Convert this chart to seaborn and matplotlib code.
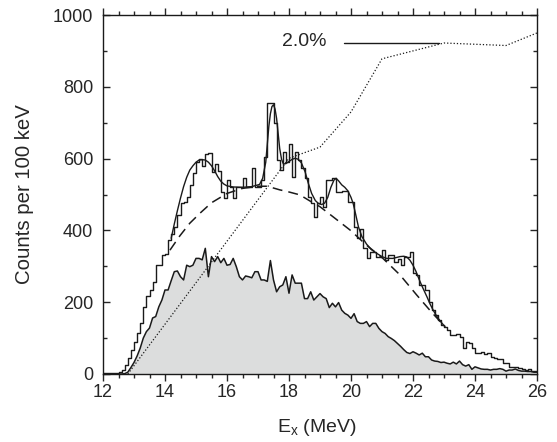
import numpy as np
import pandas as pd
import seaborn as sns
import matplotlib
matplotlib.use("Agg")
import matplotlib.pyplot as plt
from matplotlib.ticker import MultipleLocator

# measured spectrum, 100 keV bins starting at 12.0 MeV
bin_width = 0.1
hist_counts = [
    4, 4, 4, 4, 4, 5, 11, 25, 45, 68,
    90, 114, 142, 187, 217, 234, 257, 303, 303, 331,
    335, 373, 390, 410, 443, 476, 478, 494, 526, 560,
    590, 600, 580, 612, 615, 563, 585, 566, 508, 489,
    540, 522, 489, 522, 522, 545, 522, 522, 573, 522,
    522, 540, 605, 754, 754, 698, 596, 568, 619, 591,
    642, 550, 619, 596, 573, 545, 494, 475, 438, 475,
    494, 466, 540, 540, 545, 508, 508, 510, 510, 480,
    480, 410, 378, 405, 350, 322, 340, 340, 327, 327,
    345, 318, 331, 331, 312, 320, 303, 325, 325, 340,
    280, 276, 248, 248, 234, 201, 178, 164, 150, 136,
    130, 122, 108, 108, 111, 104, 72, 90, 86, 72,
    58, 58, 62, 55, 58, 48, 45, 42, 42, 30,
    30, 20, 20, 20, 17, 14, 11, 14, 8, 8,
]

# shaded (grey) spectrum, points every 100 keV from 12.0 to 26.0 MeV
grey_counts = [
    0, 0, 0, 0, 0, 0, 0, 1, 5, 18,
    32, 50, 72, 100, 118, 128, 156, 160, 187, 206,
    234, 234, 260, 285, 287, 271, 262, 303, 299, 303,
    322, 322, 318, 350, 271, 327, 313, 327, 310, 322,
    303, 305, 322, 299, 271, 262, 273, 271, 268, 285,
    285, 262, 262, 258, 316, 262, 229, 243, 248, 271,
    225, 276, 253, 253, 253, 210, 210, 229, 206, 215,
    224, 215, 210, 185, 197, 187, 199, 178, 169, 164,
    155, 168, 146, 141, 141, 146, 132, 141, 141, 127,
    118, 113, 104, 99, 93, 85, 77, 68, 60, 57,
    62, 58, 53, 58, 48, 48, 39, 36, 35, 32,
    33, 30, 28, 33, 28, 36, 26, 22, 26, 13,
    20, 17, 14, 13, 13, 11, 13, 13, 15, 13,
    8, 11, 11, 14, 10, 8, 8, 7, 7, 5, 5,
]

# full fit (solid)
fit_e = [14.2, 14.3, 14.4, 14.5, 14.6, 14.7, 14.8, 14.9, 15.0, 15.1,
         15.2, 15.3, 15.4, 15.5, 15.6, 15.7, 15.8, 15.9, 16.0, 16.2,
         16.5, 16.8, 17.05, 17.15, 17.25, 17.3, 17.35, 17.4, 17.45, 17.5,
         17.55, 17.6, 17.65, 17.7, 17.76, 17.82, 17.9, 18.0, 18.1, 18.2,
         18.3, 18.4, 18.52, 18.62, 18.73, 18.85, 18.95, 19.05, 19.15, 19.25,
         19.35, 19.45, 19.52, 19.6, 19.7, 19.8, 19.9, 20.0, 20.07, 20.15,
         20.24, 20.35, 20.5, 20.65, 20.83, 21.0, 21.15, 21.35, 21.58, 21.7,
         21.8, 21.9, 22.0, 22.1, 22.2, 22.3, 22.45, 22.55, 22.65, 22.75,
         22.87, 23.03]
fit_c = [378, 418, 455, 490, 522, 548, 568, 580, 590, 596,
         597, 596, 590, 580, 566, 550, 537, 529, 524, 521,
         520, 522, 528, 545, 590, 640, 690, 725, 745, 750,
         738, 712, 670, 628, 598, 585, 586, 592, 598, 601,
         598, 588, 563, 532, 503, 483, 475, 472, 476, 492,
         520, 540, 545, 538, 527, 520, 510, 492, 475, 445,
         410, 383, 362, 347, 336, 327, 322, 322, 327, 328,
         326, 317, 303, 285, 263, 243, 215, 195, 178, 163,
         148, 132]

# broad component (dashed)
broad_e = [14.16, 14.48, 14.8, 15.13, 15.5, 16.0, 16.5, 17.0, 17.3, 17.7, 18.0,
           18.35, 18.77, 19.0, 19.42, 19.97, 20.5, 21.03, 21.58, 22.12, 22.6, 23.03]
broad_c = [345, 385, 420, 448, 477, 503, 517, 523, 523, 513, 507,
           499, 477, 466, 438, 401, 359, 322, 276, 220, 172, 132]

# cumulative strength (dotted)
cum_e = [12.8, 18.0, 19.0, 20.0, 21.0, 23.0, 25.0, 26.0]
cum_c = [0, 601, 632, 730, 878, 922, 915, 950]

# "2.0%" marker
mark_label = "2.0%"
mark_e = [19.77, 22.84]
mark_c = [922, 922]

centers = 12.0 + bin_width * (np.arange(len(hist_counts)) + 0.5)
grey_e = 12.0 + bin_width * np.arange(len(grey_counts))
hist_df = pd.DataFrame({"E": centers, "counts": hist_counts})

sns.set_style("ticks")
plt.rcParams["font.family"] = ["Liberation Sans", "DejaVu Sans"]
plt.rcParams["mathtext.fontset"] = "custom"
plt.rcParams["mathtext.rm"] = "Liberation Sans"
plt.rcParams["mathtext.default"] = "regular"

fig = plt.figure(figsize=(5.57, 4.42), dpi=100)
ax = fig.add_axes([103 / 557, 1 - 374 / 442, 434 / 557, 359 / 442])

ax.fill_between(grey_e, grey_counts, 0, color="#dcdddd", lw=0, zorder=1)
sns.lineplot(x=grey_e, y=grey_counts, color="#1a1a1a", lw=1.1, ax=ax, zorder=3)

sns.histplot(data=hist_df, x="E", weights="counts", binwidth=bin_width,
             binrange=(12.0, 26.0), element="step", fill=False,
             color="#1a1a1a", linewidth=1.0, ax=ax, zorder=4)

sns.lineplot(x=fit_e, y=fit_c, color="#1a1a1a", lw=1.0, ax=ax, zorder=5)
sns.lineplot(x=broad_e, y=broad_c, color="#1a1a1a", lw=1.1,
             linestyle=(0, (6.5, 4)), ax=ax, zorder=5)
sns.lineplot(x=cum_e, y=cum_c, color="#1a1a1a", lw=0.9,
             linestyle=(0, (1, 1.6)), ax=ax, zorder=5)
sns.lineplot(x=mark_e, y=mark_c, color="#1a1a1a", lw=1.0, ax=ax, zorder=5)
ax.text(18.5, 925, mark_label, ha="center", va="center", fontsize=14)

ax.set_xlim(12, 26)
ax.set_ylim(0, 1000)
ax.xaxis.set_major_locator(MultipleLocator(2))
ax.xaxis.set_minor_locator(MultipleLocator(0.5))
ax.yaxis.set_major_locator(MultipleLocator(200))
ax.yaxis.set_minor_locator(MultipleLocator(100))
ax.tick_params(axis="x", which="both", direction="out", top=True, bottom=True,
               labelsize=13, pad=2.5, width=1)
ax.tick_params(axis="x", which="major", length=5)
ax.tick_params(axis="x", which="minor", length=2.8)
ax.tick_params(axis="y", which="both", direction="in", left=True, right=True,
               labelsize=13, pad=7, width=1)
ax.tick_params(axis="y", which="major", length=5)
ax.tick_params(axis="y", which="minor", length=3)
for s in ax.spines.values():
    s.set_linewidth(1.0)
    s.set_color("#1a1a1a")

ax.set_xlabel("E$_{x}$ (MeV)", fontsize=14, va="top")
ax.xaxis.set_label_coords(0.494, -0.12)
ax.set_ylabel("Counts per 100 keV", fontsize=14.7, va="center")
ax.yaxis.set_label_coords(-0.181, 0.5)

fig.savefig("out.png", dpi=100)
